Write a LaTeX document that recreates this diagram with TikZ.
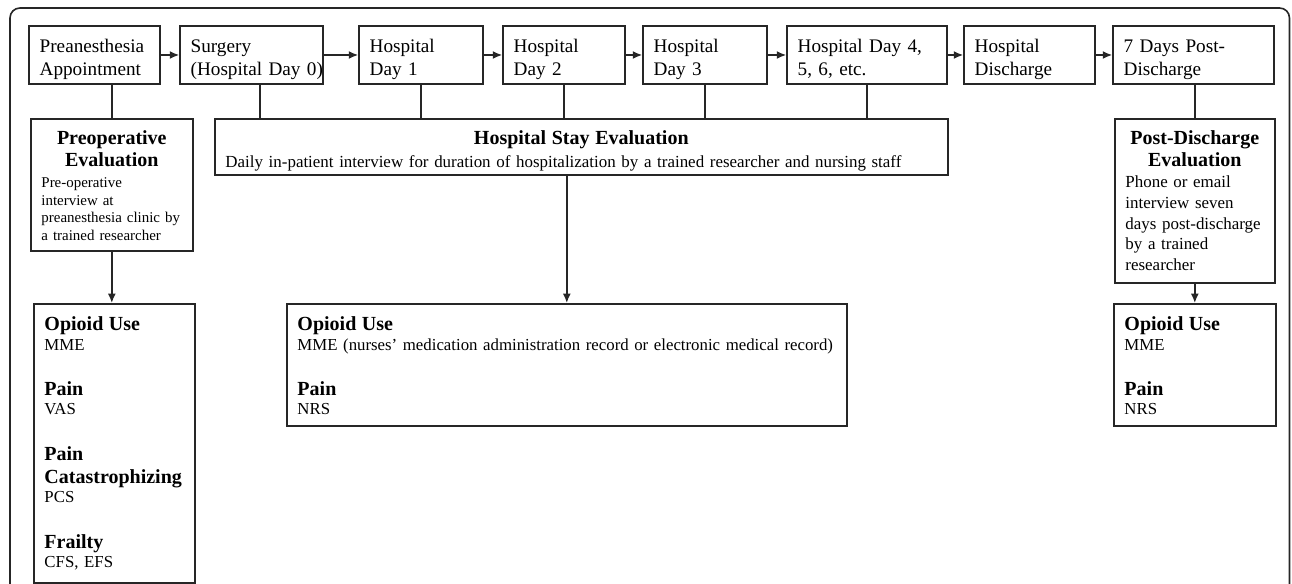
\documentclass[tikz,border=0pt]{standalone}
\usepackage{fontspec}
\setmainfont{Liberation Serif}
\usetikzlibrary{arrows.meta}
\newcommand\stagefont{\fontsize{14.4}{17.25}\selectfont}
\newcommand\headfont{\fontsize{15}{16.5}\selectfont\bfseries}
\newcommand\notefont{\fontsize{12.6}{14.5}\selectfont}
\tikzset{
  stage/.style={draw=black!85,line width=1.2pt,align=left,inner xsep=8pt,inner ysep=0pt,text height=19.6pt,text depth=23.9pt,font=\stagefont},
  evalbox/.style={draw=black!85,line width=1.2pt,align=left,anchor=north west,inner xsep=8pt,inner ysep=0pt,text height=19.5pt},
  measbox/.style={evalbox,text height=20.25pt,font=\notefont},
  link/.style={draw=black!85,line width=1.2pt}
}
\begin{document}
\begin{tikzpicture}[x=0.75pt,y=-0.75pt,>={Latex[length=7pt,width=6pt]}]
\useasboundingbox (0,0) rectangle (1292,584);
\draw[black!85,line width=1.2pt,rounded corners=7.5pt] (10,584) |- (1289.5,8) -- (1289.5,584);

\node[stage,text width=82.25pt] (pre) at (94.5,55) {Preanesthesia\\Appointment};
\node[stage,text width=91.25pt] (surg) at (251.5,55) {Surgery\\\mbox{(Hospital Day 0)}};
\node[stage,text width=77pt] (d1) at (421,55) {Hospital\\Day 1};
\node[stage,text width=75.5pt] (d2) at (564,55) {Hospital\\Day 2};
\node[stage,text width=77pt] (d3) at (705,55) {Hospital\\Day 3};
\node[stage,text width=104pt] (d4) at (867,55) {Hospital Day 4,\\5, 6, etc.};
\node[stage,text width=82.25pt] (dis) at (1029.5,55) {Hospital\\Discharge};
\node[stage,text width=104.75pt] (post) at (1193.5,55) {7 Days Post-\\Discharge};

\draw[link,->] (pre) -- (surg);
\draw[link,->] (surg) -- (d1);
\draw[link,->] (d1) -- (d2);
\draw[link,->] (d2) -- (d3);
\draw[link,->] (d3) -- (d4);
\draw[link,->] (d4) -- (dis);
\draw[link,->] (dis) -- (post);

\node[evalbox,text width=105.5pt,text depth=79.5pt,font=\fontsize{11.2}{13.1}\selectfont] (prev) at (30,118)
  {{\centering\headfont Preoperative\\Evaluation\par}\vspace{2.6pt}
   Pre-operative\\interview at\\preanesthesia clinic by\\a trained researcher\par};
\node[evalbox,text width=533.75pt,text depth=22.5pt,font=\fontsize{12.7}{17}\selectfont] (stay) at (214,118)
  {{\centering\headfont Hospital Stay Evaluation\par}
   Daily in-patient interview for duration of hospitalization by a trained researcher and nursing staff\par};
\node[evalbox,text width=104pt,text depth=103.5pt,font=\fontsize{12.7}{15.6}\selectfont] (pdev) at (1114,118)
  {{\centering\headfont Post-Discharge\\Evaluation\par}
   Phone or email\\interview seven\\days post-discharge\\by a trained\\researcher\par};

\draw[link] (pre.south -| prev.north) -- (prev.north);
\draw[link] ([xshift=6.4pt]surg.south) -- ([xshift=6.4pt]surg.south |- stay.north);
\draw[link] (d1.south) -- (d1.south |- stay.north);
\draw[link] (d2.south) -- (d2.south |- stay.north);
\draw[link] (d3.south) -- (d3.south |- stay.north);
\draw[link] (d4.south) -- (d4.south |- stay.north);
\draw[link] (post.south -| pdev.north) -- (pdev.north);

\node[measbox,text width=104.75pt,text depth=189pt] (prem) at (33,303)
  {{\headfont Opioid Use}\\MME\\[19.5pt]{\headfont Pain}\\VAS\\[19.5pt]{\headfont Pain}\\[3pt]{\headfont Catastrophizing}\\PCS\\[19.5pt]{\headfont Frailty}\\CFS, EFS\par};
\node[measbox,text width=404pt,text depth=71.25pt] (staym) at (286,303)
  {{\headfont Opioid Use}\\\mbox{MME (nurses' medication administration record or electronic medical record)}\\[19.5pt]{\headfont Pain}\\NRS\par};
\node[measbox,text width=105.5pt,text depth=71.25pt] (postm) at (1113,303)
  {{\headfont Opioid Use}\\MME\\[19.5pt]{\headfont Pain}\\NRS\par};

\draw[link,->] (prev.south) -- (prev.south |- prem.north);
\draw[link,->] (stay.south -| staym.north) -- (staym.north);
\draw[link,->] (pdev.south) -- (pdev.south |- postm.north);
\end{tikzpicture}
\end{document}
